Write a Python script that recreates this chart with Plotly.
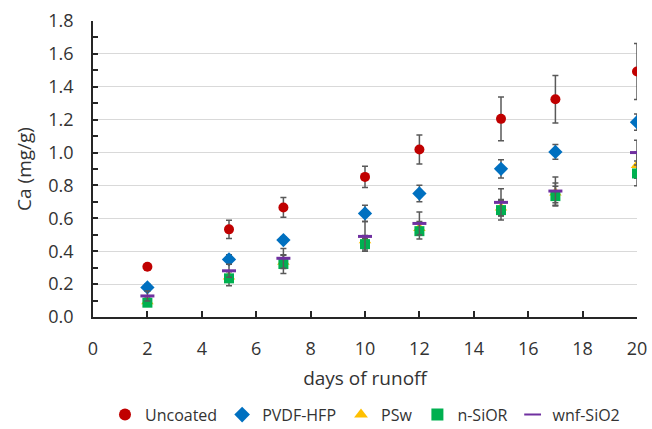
import plotly.graph_objects as go

days = [2, 5, 7, 10, 12, 15, 17, 20]

uncoated = [0.306, 0.533, 0.666, 0.852, 1.019, 1.205, 1.324, 1.493]
uncoated_err = [0.015, 0.055, 0.06, 0.065, 0.088, 0.133, 0.145, 0.17]

pvdf = [0.18, 0.35, 0.468, 0.63, 0.751, 0.901, 1.004, 1.185]
pvdf_err = [0.02, 0.028, 0.02, 0.05, 0.05, 0.055, 0.045, 0.05]

psw = [0.095, 0.245, 0.335, 0.465, 0.54, 0.665, 0.755, 0.923]
psw_err = [0.02, 0.03, 0.04, 0.03, 0.04, 0.05, 0.06, 0.08]

nsior = [0.087, 0.235, 0.322, 0.443, 0.522, 0.65, 0.735, 0.873]
nsior_err = [0.02, 0.045, 0.057, 0.035, 0.048, 0.06, 0.06, 0.075]

wnf = [0.128, 0.281, 0.357, 0.49, 0.569, 0.697, 0.766, 1.0]
wnf_err = [0.03, 0.04, 0.06, 0.09, 0.07, 0.083, 0.086, 0.075]

x_ticks = list(range(0, 21, 2))
y_ticks = [round(0.2 * i, 1) for i in range(10)]

FONT = "Open Sans"
TXT = "#333333"
ERR = "#595959"

def err(a):
    return dict(type="data", array=a, visible=True, color=ERR, thickness=1.5, width=3)

fig = go.Figure()
fig.add_trace(go.Scatter(x=days, y=uncoated, mode="markers", name="Uncoated",
                         marker=dict(symbol="circle", size=10, color="#C00000"),
                         error_y=err(uncoated_err)))
fig.add_trace(go.Scatter(x=days, y=pvdf, mode="markers", name="PVDF-HFP",
                         marker=dict(symbol="diamond", size=11, color="#0070C0"),
                         error_y=err(pvdf_err)))
fig.add_trace(go.Scatter(x=days, y=psw, mode="markers", name="PSw",
                         marker=dict(symbol="triangle-up", size=11, color="#FFC000"),
                         error_y=err(psw_err)))
fig.add_trace(go.Scatter(x=days, y=nsior, mode="markers", name="n-SiOR",
                         marker=dict(symbol="square", size=10, color="#00B050"),
                         error_y=err(nsior_err)))
fig.add_trace(go.Scatter(x=days, y=wnf, mode="markers", name="wnf-SiO2",
                         marker=dict(symbol="line-ew", size=10, color="#7030A0",
                                     line=dict(color="#7030A0", width=3)),
                         error_y=err(wnf_err)))

fig.update_layout(
    width=652, height=429,
    margin=dict(l=93, r=15, t=21, b=112, autoexpand=False),
    paper_bgcolor="white", plot_bgcolor="white",
    font=dict(family=FONT, size=18, color=TXT),
    showlegend=True,
    legend=dict(orientation="h", x=0.5, xanchor="center", y=-0.33, yanchor="middle",
                font=dict(family=FONT, size=16, color=TXT),
                itemsizing="constant", itemwidth=30, tracegroupgap=0),
    xaxis=dict(range=[0, 20], tickvals=x_ticks, ticktext=[str(v) for v in x_ticks],
               showgrid=False, zeroline=False,
               showline=True, linecolor="#262626", linewidth=1.5,
               ticks="inside", ticklen=6, tickcolor="#262626", tickwidth=1.5,
               ticklabelstandoff=15,
               title=dict(text="days of runoff", standoff=12,
                          font=dict(family=FONT, size=19, color=TXT)),
               tickfont=dict(family=FONT, size=18, color=TXT)),
    yaxis=dict(range=[0, 1.8], tickvals=y_ticks, ticktext=[f"{v:.1f}" for v in y_ticks],
               showgrid=True, gridcolor="#D9D9D9", gridwidth=1, zeroline=False,
               showline=True, linecolor="#262626", linewidth=1.5,
               ticks="inside", ticklen=5, tickcolor="#262626", tickwidth=1.5,
               ticklabelstandoff=14,
               minor=dict(dtick=0.1, ticks="inside", ticklen=5, tickcolor="#262626",
                          tickwidth=1.5, showgrid=False),
               title=dict(text="Ca (mg/g)", standoff=12,
                          font=dict(family=FONT, size=19, color=TXT)),
               tickfont=dict(family=FONT, size=18, color=TXT)),
)

fig.write_html("out.html")
